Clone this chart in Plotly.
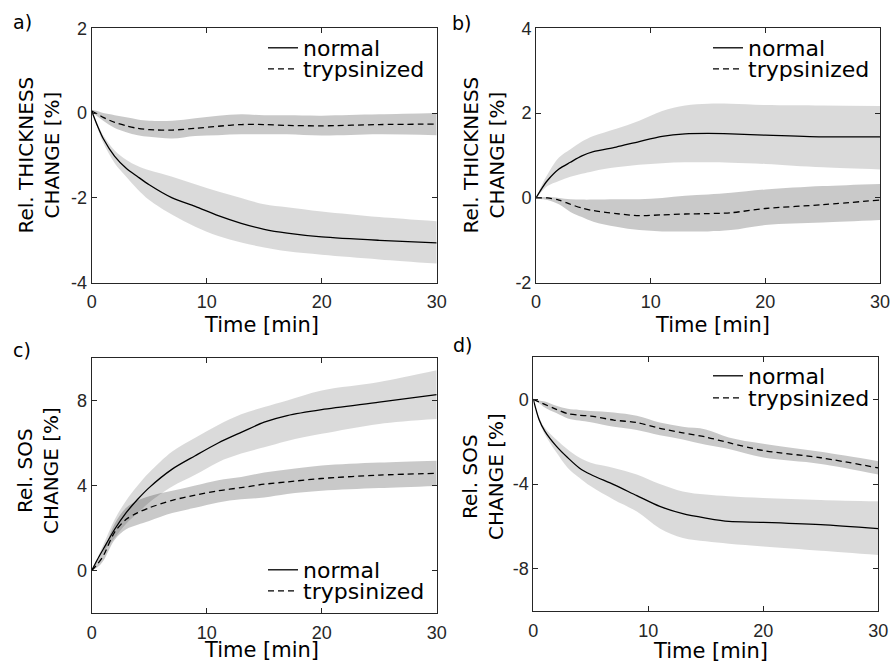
import plotly.graph_objects as go

# ---------------- data ----------------
T = [0, 0.5, 1, 2, 3, 4, 5, 7, 9, 11, 13, 15, 17, 20, 25, 30]

# a) Rel. THICKNESS CHANGE (panel a)
a_norm_mean = [0.05, -0.30, -0.60, -1.02, -1.30, -1.50, -1.69, -2.00, -2.20, -2.42, -2.60, -2.74, -2.83, -2.92, -3.00, -3.06]
a_norm_up   = [0.05, -0.25, -0.52, -0.88, -1.10, -1.25, -1.35, -1.50, -1.68, -1.85, -2.00, -2.15, -2.22, -2.32, -2.45, -2.55]
a_norm_lo   = [0.05, -0.35, -0.70, -1.18, -1.50, -1.80, -2.05, -2.40, -2.68, -2.90, -3.05, -3.17, -3.26, -3.34, -3.45, -3.55]
a_tryp_mean = [0.05, -0.02, -0.10, -0.22, -0.30, -0.36, -0.39, -0.40, -0.36, -0.31, -0.27, -0.27, -0.29, -0.30, -0.27, -0.26]
a_tryp_up   = [0.08, 0.05, 0.00, -0.05, -0.10, -0.15, -0.18, -0.18, -0.12, -0.06, -0.03, -0.05, -0.05, -0.06, -0.03, 0.00]
a_tryp_lo   = [0.02, -0.08, -0.18, -0.35, -0.45, -0.52, -0.56, -0.60, -0.54, -0.52, -0.50, -0.50, -0.50, -0.53, -0.50, -0.52]

# b) Rel. THICKNESS CHANGE (panel b)
b_norm_mean = [0.00, 0.22, 0.41, 0.68, 0.84, 0.99, 1.09, 1.20, 1.33, 1.45, 1.51, 1.52, 1.51, 1.48, 1.44, 1.44]
b_norm_up   = [0.00, 0.30, 0.55, 0.95, 1.15, 1.33, 1.46, 1.63, 1.82, 2.05, 2.18, 2.22, 2.22, 2.19, 2.18, 2.17]
b_norm_lo   = [0.00, 0.15, 0.28, 0.40, 0.50, 0.57, 0.63, 0.72, 0.78, 0.82, 0.84, 0.84, 0.83, 0.80, 0.72, 0.67]
b_tryp_mean = [0.00, 0.00, 0.00, -0.05, -0.15, -0.24, -0.30, -0.37, -0.42, -0.40, -0.38, -0.37, -0.35, -0.25, -0.16, -0.05]
b_tryp_up   = [0.00, 0.02, 0.02, 0.00, -0.03, -0.04, -0.04, -0.03, -0.03, 0.00, 0.05, 0.08, 0.12, 0.20, 0.28, 0.33]
b_tryp_lo   = [0.00, -0.03, -0.05, -0.15, -0.33, -0.45, -0.56, -0.68, -0.76, -0.79, -0.79, -0.79, -0.76, -0.64, -0.58, -0.52]

# c) Rel. SOS CHANGE (panel c)
c_norm_mean = [0.00, 0.52, 1.00, 1.94, 2.72, 3.35, 3.90, 4.77, 5.40, 6.00, 6.50, 6.98, 7.29, 7.57, 7.92, 8.28]
c_norm_up   = [0.00, 0.60, 1.20, 2.40, 3.30, 4.00, 4.61, 5.60, 6.25, 6.85, 7.35, 7.69, 8.00, 8.47, 8.87, 9.42]
c_norm_lo   = [0.00, 0.45, 0.85, 1.54, 2.20, 2.70, 3.20, 3.95, 4.50, 5.10, 5.50, 5.80, 6.10, 6.43, 6.90, 7.13]
c_tryp_mean = [0.00, 0.30, 0.68, 1.81, 2.41, 2.72, 2.95, 3.30, 3.55, 3.75, 3.90, 4.06, 4.17, 4.33, 4.49, 4.57]
c_tryp_up   = [0.00, 0.45, 0.90, 2.20, 2.95, 3.30, 3.50, 3.75, 4.00, 4.25, 4.40, 4.61, 4.75, 4.94, 5.08, 5.17]
c_tryp_lo   = [0.00, 0.15, 0.45, 1.45, 1.94, 2.15, 2.33, 2.70, 2.95, 3.20, 3.35, 3.43, 3.60, 3.75, 3.88, 3.98]

# d) Rel. SOS CHANGE (panel d)
d_norm_mean = [0.00, -0.95, -1.50, -2.21, -2.76, -3.24, -3.55, -4.03, -4.55, -5.06, -5.40, -5.61, -5.77, -5.81, -5.92, -6.11]
d_norm_up   = [0.00, -0.85, -1.34, -1.90, -2.37, -2.75, -3.00, -3.24, -3.55, -4.00, -4.35, -4.50, -4.58, -4.66, -4.75, -4.82]
d_norm_lo   = [0.00, -1.05, -1.66, -2.50, -3.24, -3.70, -4.11, -4.74, -5.30, -6.10, -6.55, -6.71, -6.82, -6.95, -7.15, -7.35]
d_tryp_mean = [0.00, -0.12, -0.24, -0.47, -0.68, -0.75, -0.79, -0.98, -1.10, -1.37, -1.58, -1.78, -2.05, -2.42, -2.76, -3.24]
d_tryp_up   = [0.00, -0.05, -0.10, -0.30, -0.45, -0.50, -0.55, -0.62, -0.78, -1.10, -1.30, -1.42, -1.80, -2.10, -2.48, -2.92]
d_tryp_lo   = [0.00, -0.18, -0.38, -0.65, -0.90, -1.00, -1.08, -1.30, -1.45, -1.70, -1.90, -2.15, -2.35, -2.75, -3.05, -3.55]

X_TICKS = [0, 10, 20, 30]
X_TICK_TEXT = ["0", "10", "20", "30"]
Y_TICKS_A = [-4, -2, 0, 2]
Y_TICKS_B = [-2, 0, 2, 4]
Y_TICKS_C = [0, 4, 8]
Y_TICKS_D = [-8, -4, 0]
SERIES_NAMES = ["normal", "trypsinized"]
PANEL_LABELS = ["a)", "b)", "c)", "d)"]
Y_TITLES = ["Rel. THICKNESS<br>CHANGE [%]", "Rel. THICKNESS<br>CHANGE [%]",
            "Rel. SOS<br>CHANGE [%]", "Rel. SOS<br>CHANGE [%]"]
X_TITLE = "Time [min]"

# ---------------- layout helpers ----------------
W, H = 893, 666
def fx(p):
    return p / W
def fy(p):
    return 1 - p / H

def tick_text(vals):
    # hyphen-minus like the original figure
    return [("-" + str(abs(v))) if v < 0 else str(v) for v in vals]

TXT = "#000000"
AX = "#262626"
TITLE_FONT = "DejaVu Sans"
TICK_FONT = "Liberation Sans, Arial"
BAND_N = "rgba(0,0,0,0.145)"
BAND_T = "rgba(0,0,0,0.21)"

panels = [
    dict(data=(a_norm_mean, a_norm_up, a_norm_lo, a_tryp_mean, a_tryp_up, a_tryp_lo),
         xpx=(91.7, 436.7), ypx=(28.3, 282.7), yr=[-4, 2], yt=Y_TICKS_A,
         leg=(263, 48, 69), lab=(22, 22), ytit=(38, 155.5), xtit=(261, 325)),
    dict(data=(b_norm_mean, b_norm_up, b_norm_lo, b_tryp_mean, b_tryp_up, b_tryp_lo),
         xpx=(536, 880), ypx=(28.3, 282.7), yr=[-2, 4], yt=Y_TICKS_B,
         leg=(708, 48, 69), lab=(461, 23), ytit=(483, 155.5), xtit=(712, 325)),
    dict(data=(c_norm_mean, c_norm_up, c_norm_lo, c_tryp_mean, c_tryp_up, c_tryp_lo),
         xpx=(91.7, 436.7), ypx=(358, 613), yr=[-2, 10], yt=Y_TICKS_C,
         leg=(263, 570, 591), lab=(22, 350), ytit=(38, 471), xtit=(261, 650)),
    dict(data=(d_norm_mean, d_norm_up, d_norm_lo, d_tryp_mean, d_tryp_up, d_tryp_lo),
         xpx=(533.3, 878.3), ypx=(357, 611), yr=[-10, 2], yt=Y_TICKS_D,
         leg=(708, 376, 398), lab=(462, 345), ytit=(483, 477), xtit=(710, 651)),
]

fig = go.Figure()
layout = dict(
    width=W, height=H,
    margin=dict(l=0, r=0, t=0, b=0, autoexpand=False),
    paper_bgcolor="white", plot_bgcolor="white",
    showlegend=True,
    annotations=[],
)

for i, p in enumerate(panels):
    k = i + 1
    xa = "x" if k == 1 else f"x{k}"
    ya = "y" if k == 1 else f"y{k}"
    leg_n = "legend" if k == 1 else f"legend{2 * k - 1}"
    leg_t = f"legend{2 * k}"
    nm, nu, nl, tm, tu, tl = p["data"]

    # bands
    fig.add_trace(go.Scatter(x=T, y=nl, mode="lines", line=dict(width=0, shape="spline"),
                             showlegend=False, hoverinfo="skip", xaxis=xa, yaxis=ya))
    fig.add_trace(go.Scatter(x=T, y=nu, mode="lines", line=dict(width=0, shape="spline"),
                             fill="tonexty", fillcolor=BAND_N,
                             showlegend=False, hoverinfo="skip", xaxis=xa, yaxis=ya))
    fig.add_trace(go.Scatter(x=T, y=tl, mode="lines", line=dict(width=0, shape="spline"),
                             showlegend=False, hoverinfo="skip", xaxis=xa, yaxis=ya))
    fig.add_trace(go.Scatter(x=T, y=tu, mode="lines", line=dict(width=0, shape="spline"),
                             fill="tonexty", fillcolor=BAND_T,
                             showlegend=False, hoverinfo="skip", xaxis=xa, yaxis=ya))
    # mean lines
    fig.add_trace(go.Scatter(x=T, y=nm, mode="lines", name=SERIES_NAMES[0],
                             line=dict(color="black", width=1.3, shape="spline", smoothing=0.8),
                             legend=leg_n, xaxis=xa, yaxis=ya))
    fig.add_trace(go.Scatter(x=T, y=tm, mode="lines", name=SERIES_NAMES[1],
                             line=dict(color="black", width=1.3, dash="6px,4px", shape="spline", smoothing=0.8),
                             legend=leg_t, xaxis=xa, yaxis=ya))

    axis_common = dict(
        showline=True, linecolor=AX, linewidth=1, mirror="ticks",
        ticks="inside", ticklen=5, tickwidth=1, tickcolor=AX,
        showgrid=False, zeroline=False, automargin=False,
        tickfont=dict(family=TICK_FONT, size=18, color=AX),
    )
    xkey = "xaxis" if k == 1 else f"xaxis{k}"
    ykey = "yaxis" if k == 1 else f"yaxis{k}"
    layout[xkey] = dict(axis_common, domain=[fx(p["xpx"][0]), fx(p["xpx"][1])],
                        range=[0, 30], tickvals=X_TICKS, ticktext=X_TICK_TEXT,
                        anchor=ya, ticklabelstandoff=3)
    layout[ykey] = dict(axis_common, domain=[fy(p["ypx"][1]), fy(p["ypx"][0])],
                        range=p["yr"], tickvals=p["yt"], ticktext=tick_text(p["yt"]),
                        anchor=xa, ticklabelstandoff=0)
    for lname, ly in ((leg_n, p["leg"][1]), (leg_t, p["leg"][2])):
        layout[lname] = dict(
            x=fx(p["leg"][0]), y=fy(ly), xanchor="left", yanchor="middle",
            bgcolor="rgba(0,0,0,0)", borderwidth=0,
            font=dict(family=TITLE_FONT, size=22, color=TXT),
            itemwidth=30, traceorder="normal",
        )
    # panel label
    layout["annotations"].append(dict(
        text=PANEL_LABELS[i], x=fx(p["lab"][0]), y=fy(p["lab"][1]),
        xref="paper", yref="paper", showarrow=False, xanchor="center", yanchor="middle",
        font=dict(family=TITLE_FONT, size=19, color=TXT)))
    # y title
    layout["annotations"].append(dict(
        text=Y_TITLES[i], x=fx(p["ytit"][0]), y=fy(p["ytit"][1]),
        xref="paper", yref="paper", showarrow=False, xanchor="center", yanchor="middle",
        textangle=-90, font=dict(family=TITLE_FONT, size=20, color=TXT)))
    # x title
    layout["annotations"].append(dict(
        text=X_TITLE, x=fx(p["xtit"][0]), y=fy(p["xtit"][1]),
        xref="paper", yref="paper", showarrow=False, xanchor="center", yanchor="middle",
        font=dict(family=TITLE_FONT, size=21, color=TXT)))

fig.update_layout(**layout)
fig.write_html(
    "out.html",
    config={"displayModeBar": False},
    post_script="document.body.style.margin='0px';document.body.style.padding='0px';",
)
